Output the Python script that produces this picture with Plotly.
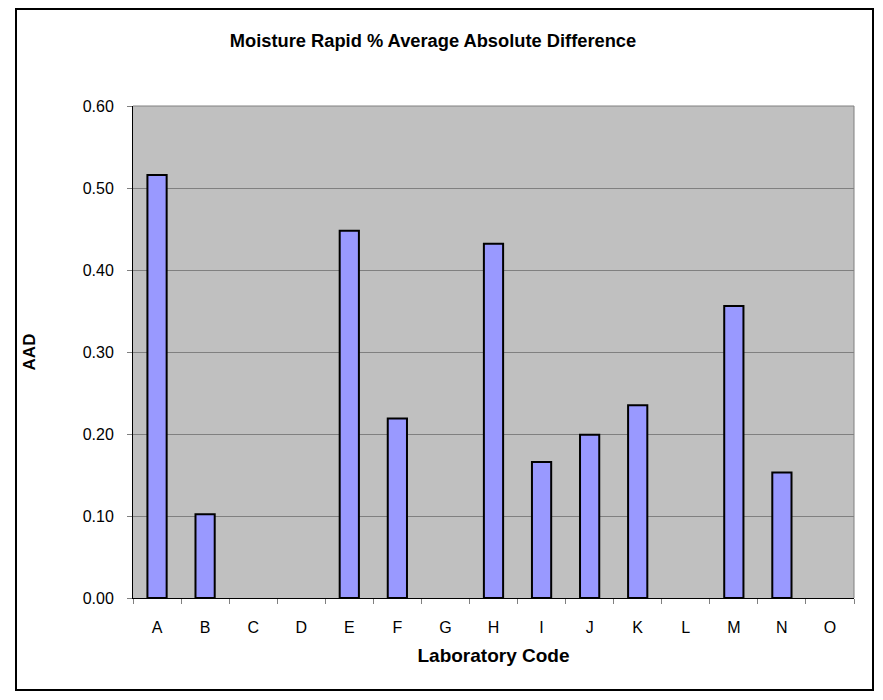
import plotly.graph_objects as go

categories = ["A", "B", "C", "D", "E", "F", "G", "H", "I", "J", "K", "L", "M", "N", "O"]
aad_values = [0.516, 0.102, None, None, 0.448, 0.219, None, 0.432, 0.166, 0.199, 0.235, None, 0.356, 0.153, None]
y_tick_values = [0.0, 0.1, 0.2, 0.3, 0.4, 0.5, 0.6]
y_tick_labels = ["0.00", "0.10", "0.20", "0.30", "0.40", "0.50", "0.60"]

# The page body adds an 8px margin on each side; size the figure so nothing overflows
# and lay it out in screen pixels minus that offset.
OFF = 8
W, H = 883 - 2 * OFF, 700 - 2 * OFF
ML, MT = 133 - OFF, 106 - OFF
MR = W - (854 - OFF)
MB = H - (598 - OFF)
PW, PH = W - ML - MR, H - MT - MB

def px_x(sx):
    return (sx - OFF - ML) / PW

def px_y(sy):
    return (H - MB - (sy - OFF)) / PH

FONT = "Arial, Liberation Sans, sans-serif"

fig = go.Figure()
fig.add_trace(go.Bar(
    x=categories, y=aad_values, width=0.4,
    marker=dict(color="#9999FF", line=dict(color="black", width=2)),
    showlegend=False,
))

shapes = [
    # outer chart border (kept inside the figure canvas)
    dict(type="rect", xref="paper", yref="paper",
         x0=px_x(16), x1=px_x(OFF + W - 2), y0=px_y(OFF + H - 2), y1=px_y(OFF + 1),
         line=dict(color="black", width=2), layer="above"),
    # plot area top/right border (gray)
    dict(type="line", xref="paper", yref="paper", x0=1, x1=1, y0=0, y1=1,
         line=dict(color="#808080", width=1), layer="below"),
    dict(type="line", xref="paper", yref="paper", x0=0, x1=1, y0=1, y1=1,
         line=dict(color="#808080", width=1), layer="below"),
]

fig.update_layout(
    width=W, height=H,
    margin=dict(l=ML, r=MR, t=MT, b=MB, autoexpand=False),
    paper_bgcolor="white", plot_bgcolor="#C0C0C0",
    font=dict(family=FONT, color="black", size=16),
    title=dict(text="<b>Moisture Rapid % Average Absolute Difference</b>",
               x=(433 - OFF) / W, xanchor="center", xref="container",
               y=1 - (41 - OFF) / H, yanchor="middle", yref="container",
               font=dict(size=18.3, family=FONT)),
    shapes=shapes,
)
fig.update_xaxes(
    type="category", categoryorder="array", categoryarray=categories,
    range=[-0.5, 14.5],
    showline=True, linecolor="black", linewidth=1,
    ticks="outside", tickson="boundaries", ticklen=5, tickcolor="#808080",
    showgrid=False, ticklabelstandoff=15,
    tickfont=dict(size=16),
    title=dict(text="<b>Laboratory Code</b>", font=dict(size=19), standoff=13),
)
fig.update_yaxes(
    range=[0, 0.6], tickvals=y_tick_values, ticktext=y_tick_labels,
    showline=True, linecolor="black", linewidth=1,
    ticks="outside", ticklen=5, tickcolor="#808080",
    showgrid=True, gridcolor="#808080", gridwidth=1,
    zeroline=False, ticklabelstandoff=10,
    tickfont=dict(size=16),
    title=dict(text="<b>AAD</b>", font=dict(size=17), standoff=42),
)

fig.write_html("out.html")
